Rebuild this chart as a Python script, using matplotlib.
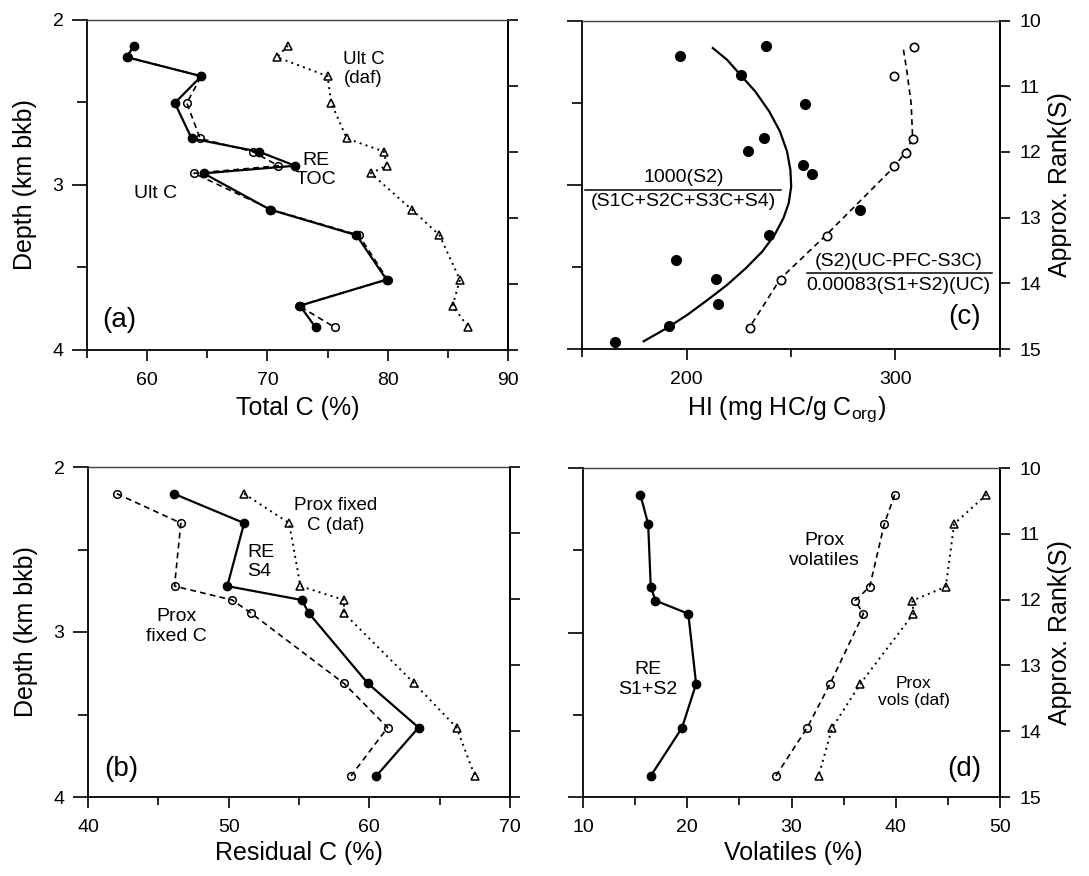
import matplotlib
matplotlib.use("Agg")
import matplotlib.pyplot as plt
from matplotlib.ticker import FixedLocator

plt.rcParams['font.family'] = ['Liberation Sans', 'DejaVu Sans']
plt.rcParams['mathtext.fontset'] = 'custom'
plt.rcParams['mathtext.rm'] = 'Liberation Sans'

# (a) carbon contents, 13 samples
depth_a = [2.158, 2.228, 2.343, 2.505, 2.720, 2.800, 2.885, 2.931, 3.150, 3.305, 3.574, 3.732, 3.863]
toc_re = [58.9, 58.3, 64.5, 62.3, 63.7, 69.3, 72.3, 64.7, 70.2, 77.4, 79.9, 72.7, 74.0]
ult_c = [58.9, 58.4, 64.5, 63.3, 64.4, 68.8, 70.9, 63.9, 70.3, 77.6, 80.0, 72.6, 75.6]
ult_c_daf = [71.7, 70.8, 75.0, 75.3, 76.6, 79.7, 79.9, 78.6, 82.0, 84.3, 86.0, 85.4, 86.7]

# (b), (d) proximate analyses, 8 samples
depth_p = [2.162, 2.340, 2.722, 2.806, 2.886, 3.312, 3.579, 3.872]
s4_re = [46.1, 51.1, 49.9, 55.2, 55.7, 59.9, 63.5, 60.5]
fixed_c = [42.05, 46.6, 46.15, 50.25, 51.6, 58.2, 61.3, 58.7]
fixed_c_daf = [51.1, 54.3, 55.1, 58.2, 58.2, 63.2, 66.2, 67.5]
s1s2_re = [15.5, 16.25, 16.5, 16.95, 20.1, 20.85, 19.5, 16.5]
prox_vol = [39.9, 38.9, 37.5, 36.1, 36.9, 33.7, 31.5, 28.5]
prox_vol_daf = [48.7, 45.6, 44.8, 41.6, 41.7, 36.6, 33.9, 32.6]

# (c) hydrogen index
depth_c = [2.154, 2.219, 2.331, 2.509, 2.716, 2.793, 2.882, 2.933, 3.152, 3.304,
           3.458, 3.571, 3.727, 3.862, 3.960]
hi_re = [238, 197, 226, 256.7, 237, 229.5, 255.8, 260, 283, 239.5, 195, 214, 215, 191.5, 166]
hi_prox = [309, 299.5, 308.2, 305, 299.5, 267, 245, 230.5]
fit_depth = [2.168, 2.239, 2.331, 2.432, 2.554, 2.675, 2.797, 2.909, 3.010, 3.112,
             3.203, 3.304, 3.406, 3.507, 3.609, 3.700, 3.791, 3.872, 3.953]
hi_fit = [212.6, 219.4, 225.8, 232.9, 239.6, 244.7, 248.1, 249.7, 250.1, 248.9,
          246.4, 242.2, 236.3, 228.5, 219.5, 210.2, 200.5, 190.7, 179.5]
prox_curve_depth = [2.178, 2.304, 2.507, 2.718, 2.797, 2.889, 3.304, 3.571, 3.862]
hi_prox_curve = [303.8, 305.4, 307.5, 308.2, 305, 299.5, 267, 245, 230.5]

W, H = 1089, 876
fig = plt.figure(figsize=(W / 100, H / 100), dpi=100)


def add_panel(l, r, t, b):
    return fig.add_axes([l / W, 1 - b / H, (r - l) / W, (b - t) / H])


def d2r(d):
    return 10 + (d - 2) * 2.5


def r2d(r):
    return 2 + (r - 10) / 2.5


def frame(ax, xlim, major, minor, left_labels, right_labels):
    ax.set_xlim(xlim)
    ax.set_ylim(4, 2)
    ax.xaxis.set_major_locator(FixedLocator(major))
    ax.xaxis.set_minor_locator(FixedLocator(minor))
    ax.yaxis.set_major_locator(FixedLocator([2, 3, 4]))
    ax.yaxis.set_minor_locator(FixedLocator([2.5, 3.5]))
    ax.tick_params(axis='x', which='major', direction='out', length=8, width=1.2,
                   pad=8, labelsize=14)
    ax.tick_params(axis='x', which='minor', direction='out', length=6, width=1.2)
    ax.tick_params(axis='y', which='major', direction='out', length=11, width=1.2,
                   pad=6, labelsize=14, labelleft=left_labels, right=False)
    ax.tick_params(axis='y', which='minor', direction='out', length=7, width=1.2, right=False)
    for s in ax.spines.values():
        s.set_linewidth(1.3)
    ax.spines['top'].set_linewidth(1.0)
    ax.spines['top'].set_color('0.25')
    sec = ax.secondary_yaxis('right', functions=(d2r, r2d))
    sec.set_yticks([10, 11, 12, 13, 14, 15])
    sec.tick_params(direction='out', length=7, width=1.2, pad=7, labelsize=14)
    sec.spines['right'].set_linewidth(1.3)
    if right_labels:
        sec.set_ylabel('Approx. Rank(S)', fontsize=18, labelpad=5)
    else:
        sec.set_yticklabels([])
    return sec


dash = (0, (3.5, 2.5))
dot = (0, (1, 2.2))

# ---- (a)
ax = add_panel(87, 508, 19.5, 350)
frame(ax, (55, 90), [60, 70, 80, 90], [55, 65, 75, 85], True, False)
ax.plot(ult_c_daf, depth_a, color='k', lw=1.4, ls=dot, marker='^', ms=6, mfc='none', mew=1.1)
ax.plot(ult_c, depth_a, color='k', lw=1.2, ls=dash, marker='o', ms=5.5, mfc='none', mew=1.1)
ax.plot(toc_re, depth_a, color='k', lw=1.6, marker='o', ms=6, mfc='k')
ax.text(78.0, 2.30, 'Ult C\n(daf)', ha='center', va='center', fontsize=13.5)
ax.text(74.0, 2.91, 'RE\nTOC', ha='center', va='center', fontsize=14)
ax.text(60.7, 3.05, 'Ult C', ha='center', va='center', fontsize=14)
ax.text(57.7, 3.82, '(a)', ha='center', va='center', fontsize=20)
ax.set_xlabel('Total C (%)', fontsize=18)
ax.xaxis.set_label_coords(0.5, -0.138)
ax.set_ylabel('Depth (km bkb)', fontsize=18)
ax.yaxis.set_label_coords(-0.119, 0.5)

# ---- (b)
ax = add_panel(88, 510, 467, 797)
frame(ax, (40, 70), [40, 50, 60, 70], [45, 55, 65], True, False)
ax.plot(fixed_c_daf, depth_p, color='k', lw=1.4, ls=dot, marker='^', ms=6, mfc='none', mew=1.1)
ax.plot(fixed_c, depth_p, color='k', lw=1.2, ls=dash, marker='o', ms=5.5, mfc='none', mew=1.1)
ax.plot(s4_re, depth_p, color='k', lw=1.6, marker='o', ms=6, mfc='k')
ax.text(57.6, 2.295, 'Prox fixed\nC (daf)', ha='center', va='center', fontsize=13.5)
ax.text(51.3, 2.575, 'RE\nS4', ha='left', va='center', fontsize=14)
ax.text(46.3, 2.965, 'Prox\nfixed C', ha='center', va='center', fontsize=14)
ax.text(42.4, 3.83, '(b)', ha='center', va='center', fontsize=20)
ax.set_xlabel('Residual C (%)', fontsize=18)
ax.xaxis.set_label_coords(0.5, -0.134)
ax.set_ylabel('Depth (km bkb)', fontsize=18)
ax.yaxis.set_label_coords(-0.119, 0.5)

# ---- (c)
ax = add_panel(582, 1000, 20.5, 349)
frame(ax, (150, 350), [200, 300], [150, 250, 350], False, True)
ax.plot(hi_fit, fit_depth, color='k', lw=1.6)
ax.plot(hi_prox_curve, prox_curve_depth, color='k', lw=1.2, ls=dash)
ax.plot(hi_prox, depth_p, ls='none', marker='o', ms=6, mfc='white', mec='k', mew=1.2)
ax.plot(hi_re, depth_c, ls='none', marker='o', ms=7, mfc='k', mec='k')
ax.text(198.5, 2.955, '1000(S2)', ha='center', va='center', fontsize=14)
ax.plot([151.5, 245], [3.034, 3.034], color='k', lw=1.1)
ax.text(198.5, 3.105, '(S1C+S2C+S3C+S4)', ha='center', va='center', fontsize=14)
ax.text(301.5, 3.465, '(S2)(UC-PFC-S3C)', ha='center', va='center', fontsize=14)
ax.plot([257.5, 346], [3.540, 3.540], color='k', lw=1.1)
ax.text(301.5, 3.612, '0.00083(S1+S2)(UC)', ha='center', va='center', fontsize=14)
ax.text(333, 3.805, '(c)', ha='center', va='center', fontsize=20)
ax.set_xlabel('HI (mg HC/g C$_{\\mathrm{org}}$)', fontsize=18)
ax.xaxis.set_label_coords(0.49, -0.138)

# ---- (d)
ax = add_panel(583, 1000, 468, 797)
frame(ax, (10, 50), [10, 20, 30, 40, 50], [15, 25, 35, 45], False, True)
ax.plot(prox_vol_daf, depth_p, color='k', lw=1.4, ls=dot, marker='^', ms=6, mfc='none', mew=1.1)
ax.plot(prox_vol, depth_p, color='k', lw=1.2, ls=dash, marker='o', ms=5.5, mfc='none', mew=1.1)
ax.plot(s1s2_re, depth_p, color='k', lw=1.6, marker='o', ms=6, mfc='k')
ax.text(33.2, 2.50, 'Prox\nvolatiles', ha='center', va='center', fontsize=14)
ax.text(16.2, 3.286, 'RE\nS1+S2', ha='center', va='center', fontsize=14)
ax.text(41.7, 3.36, 'Prox\nvols (daf)', ha='center', va='center', fontsize=12.5)
ax.text(46.6, 3.827, '(d)', ha='center', va='center', fontsize=20)
ax.set_xlabel('Volatiles (%)', fontsize=18)
ax.xaxis.set_label_coords(0.505, -0.134)

fig.savefig('out.png', dpi=100)
